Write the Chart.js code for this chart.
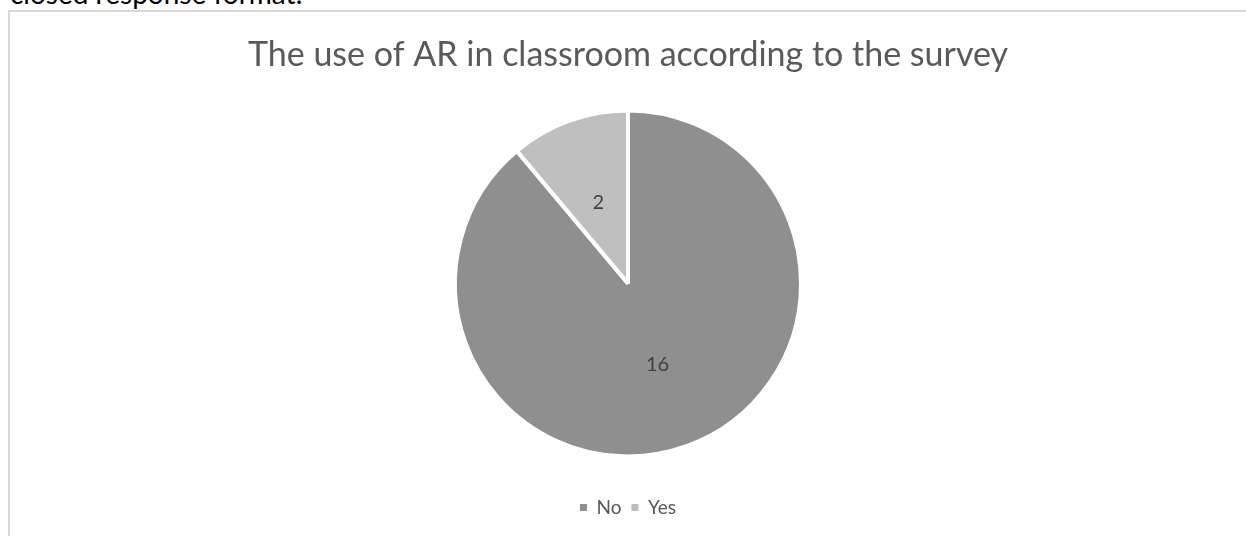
<!DOCTYPE html>
<html>
<head>
<meta charset="utf-8">
<script src="https://cdn.jsdelivr.net/npm/chart.js@4"></script>
<style>
  body { margin: 0; background: #fff; overflow: hidden; }
  .above { position: absolute; left: 10px; top: -24px; font: 28px Lato, sans-serif; color: #000; white-space: nowrap; }
  .frame { position: absolute; left: 8px; top: 10px; width: 1250px; height: 540px; border: 2px solid #d9d9d9; }
  .frame canvas { position: absolute; left: 0; top: 0; }
</style>
</head>
<body>
<div class="above">closed response format.</div>
<div class="frame">
  <canvas id="pieChart" width="1236" height="524" style="width:1236px;height:524px"></canvas>
</div>
<script>
const labels = ['No', 'Yes'];
const counts = [16, 2];
const sliceColors = ['#8f8f8f', '#bfbfbf'];
const chartTitle = 'The use of AR in classroom according to the survey';

// draw the counts inside each slice, like the spreadsheet data labels
const sliceLabels = {
  id: 'sliceLabels',
  afterDatasetsDraw(chart) {
    const ctx = chart.ctx;
    const meta = chart.getDatasetMeta(0);
    ctx.save();
    ctx.font = '20px Lato, sans-serif';
    ctx.fillStyle = '#404040';
    ctx.textAlign = 'center';
    ctx.textBaseline = 'middle';
    meta.data.forEach(function(arc, i) {
      const p = arc.tooltipPosition();
      ctx.fillText(chart.data.datasets[0].data[i], p.x, p.y);
    });
    ctx.restore();
  }
};

const ctx = document.getElementById('pieChart');
const pieChart = new Chart(ctx, {
  type: 'pie',
  data: {
    labels: labels,
    datasets: [{
      data: counts,
      backgroundColor: sliceColors,
      borderColor: '#ffffff',
      borderWidth: 4,
      radius: 173
    }]
  },
  options: {
    responsive: false,
    animation: false,
    layout: { padding: { top: 0, bottom: 9 } },
    plugins: {
      title: {
        display: true,
        text: chartTitle,
        color: '#595959',
        font: { family: 'Lato, sans-serif', size: 34, weight: 'normal' },
        padding: { top: 23, bottom: 3 }
      },
      legend: {
        position: 'bottom',
        labels: {
          color: '#595959',
          font: { family: 'Lato, sans-serif', size: 19 },
          boxWidth: 7,
          boxHeight: 7,
          padding: 10,
          generateLabels(chart) {
            const items = Chart.overrides.pie.plugins.legend.labels.generateLabels(chart);
            items.forEach(function(it) { it.lineWidth = 0; });
            return items;
          }
        }
      },
      tooltip: { enabled: false }
    }
  },
  plugins: [sliceLabels]
});
</script>
</body>
</html>
